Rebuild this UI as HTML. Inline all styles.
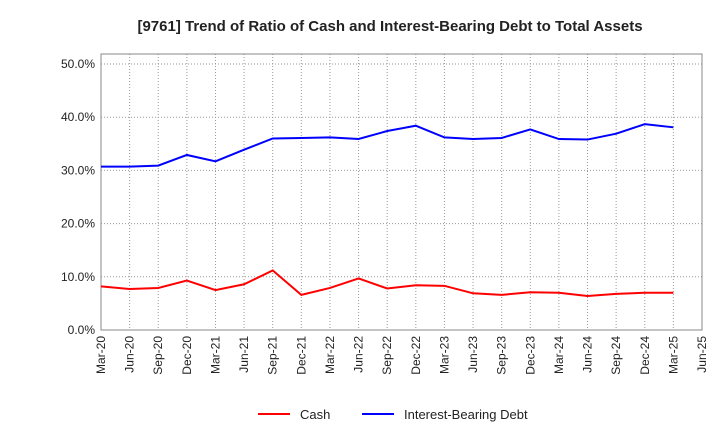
<!DOCTYPE html>
<html><head><meta charset="utf-8"><style>
body{margin:0;background:#fff;font-family:"Liberation Sans",sans-serif;}
svg text{font-family:"Liberation Sans",sans-serif;}
</style></head><body>
<svg id="chart" width="720" height="440">
<text x="390" y="31" text-anchor="middle" font-size="15" font-weight="bold" fill="#222">[9761]  Trend of Ratio of Cash and Interest-Bearing Debt to Total Assets</text>
<g id="grid"></g><g id="axes"></g><g id="series"></g>
<g>
<line x1="258" y1="414" x2="290" y2="414" stroke="#f00" stroke-width="2"/>
<text x="300" y="419" font-size="13" fill="#222">Cash</text>
<line x1="362" y1="414" x2="394" y2="414" stroke="#00f" stroke-width="2"/>
<text x="404" y="419" font-size="13" fill="#222">Interest-Bearing Debt</text>
</g>
</svg>
<script>
const categories=["Mar-20","Jun-20","Sep-20","Dec-20","Mar-21","Jun-21","Sep-21","Dec-21","Mar-22","Jun-22","Sep-22","Dec-22","Mar-23","Jun-23","Sep-23","Dec-23","Mar-24","Jun-24","Sep-24","Dec-24","Mar-25","Jun-25"];
const cash=[8.2,7.7,7.9,9.3,7.5,8.6,11.2,6.6,7.9,9.7,7.8,8.4,8.3,6.9,6.6,7.1,7.0,6.4,6.8,7.0,7.0];
const debt=[30.7,30.7,30.9,32.9,31.7,33.9,36.0,36.1,36.2,35.9,37.4,38.4,36.2,35.9,36.1,37.7,35.9,35.8,36.9,38.7,38.1];
const yTicks=[0,10,20,30,40,50];
const yLabels=["0.0%","10.0%","20.0%","30.0%","40.0%","50.0%"];
const L=101,R=702,T=54,B=330;
const x=i=>L+i*(R-L)/(categories.length-1);
const y=v=>B-v*5.32;
const ns="http://www.w3.org/2000/svg";
function mk(tag,attrs,parent){const e=document.createElementNS(ns,tag);for(const k in attrs)e.setAttribute(k,attrs[k]);parent.appendChild(e);return e;}
const grid=document.getElementById('grid'),axes=document.getElementById('axes'),series=document.getElementById('series');
categories.forEach((c,i)=>{
 const g=mk('line',{x1:x(i),x2:x(i),y1:T,y2:B,stroke:'#999','stroke-dasharray':'1,2','stroke-width':1},grid);
 
 
 const t=mk('text',{transform:`translate(${x(i)+4},${B+6}) rotate(-90)`,'text-anchor':'end','font-size':12,fill:'#222'},axes);
 t.textContent=c;
 
 
});
yTicks.forEach((v,i)=>{
 const g=mk('line',{x1:L,x2:R,y1:y(v),y2:y(v),stroke:'#999','stroke-dasharray':'1,2','stroke-width':1},grid);
 
 
 const t=mk('text',{x:L-6,y:y(v)+4,'text-anchor':'end','font-size':12,fill:'#222'},axes);
 t.textContent=yLabels[i];
 
 
});
const frame=mk('rect',{x:L,y:T,width:R-L,height:B-T,fill:'none',stroke:'#888'},axes);


function line(data,color,name){
 const p=mk('polyline',{points:data.map((v,i)=>x(i)+','+y(v)).join(' '),fill:'none',stroke:color,'stroke-width':2},series);
 
 
}
line(cash,'#f00','cash-line');
line(debt,'#00f','debt-line');
</script>
</body></html>
